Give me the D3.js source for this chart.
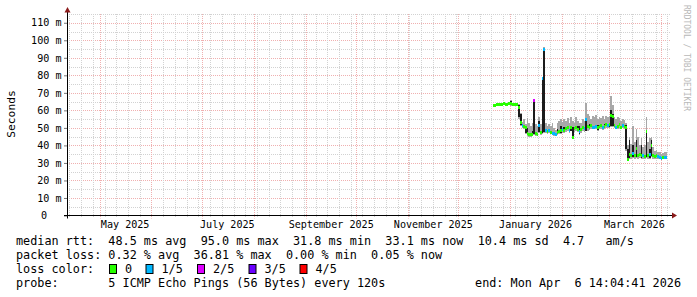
<!DOCTYPE html>
<html><head><meta charset="utf-8">
<script src="https://cdn.jsdelivr.net/npm/d3@7"></script>
<style>
html,body{margin:0;padding:0;background:#fff;}
svg{display:block;font-family:"DejaVu Sans Mono",monospace;}
</style></head><body>
<svg id="chart" width="697" height="297"></svg>
<script>
// ---------- data ----------
const endTime = "2026-04-06T14:04:41Z";
const spanDays = 360;
const firstDay = "2025-12-22";          // first daily sample (UTC)
const yTicks = [0,10,20,30,40,50,60,70,80,90,100,110];
const lossLabels = ["0","1/5","2/5","3/5","4/5"];
const lossColors = ["#26ff00","#00b8ff","#dd00ff","#6a00ff","#ff0000"];

// median rtt per day (ms)
const median = [
 62.8,63.0,63.4,63.5,63.6,63.5,63.7,63.6,63.5,63.8,64.0,63.6,63.5,63.4,63.3,
 61.5,53.0,51.5,50.8,50.5,47.0,46.5,46.0,46.5,
 65.5,47.0,46.5,51.5,47.5,78.0,95.0,48.5,48.0,48.5,
 47.5,47.0,46.8,46.5,47.5,48.0,48.5,49.0,48.5,49.5,
 50.0,48.5,50.0,44.3,49.5,50.0,49.0,48.0,49.0,50.0,
 49.5,55.0,51.0,50.5,51.5,50.5,50.5,50.8,50.0,51.0,
 51.5,50.5,51.0,52.0,51.5,52.0,57.0,56.5,51.5,50.5,
 51.0,52.0,50.5,51.5,51.0,50.5,31.8,35.0,34.0,35.5,
 34.0,38.0,34.5,35.0,34.0,34.5,33.5,48.0,34.5,35.0,
 40.0,34.0,33.5,34.0,33.5,33.0,32.8,33.0,33.1,33.1];
// lost pings out of 5 per day
const loss = [
 0,0,0,0,0,0,0,0,0,0,0,0,0,0,0,
 0,0,1,0,0,0,0,0,0,
 2,0,0,1,0,1,1,1,0,1,
 0,1,1,1,0,0,0,1,0,0,
 0,1,0,0,0,0,0,1,0,0,
 1,1,0,0,0,1,1,1,0,0,
 0,1,0,0,1,0,0,0,0,1,
 0,0,0,1,0,0,0,0,0,1,
 0,0,0,0,0,1,0,0,0,1,
 0,0,0,0,1,1,1,0,1,1];
// inner smoke (dark) range, ms
const coreLo = [
 62.5,62.7,63.1,63.2,63.3,63.2,63.4,63.3,63.2,63.5,63.0,63.3,63.2,63.1,63.0,
 56,51.5,51,50.3,47,46.3,46,45.5,46,
 46.5,46.5,46,47.5,47,47,47.5,48,47.5,48,
 47,46.5,46.3,46,46.5,47.5,47,48.5,47.5,49,
 49.5,48,48.5,44,49,49.5,48,46.5,48.5,49.5,
 49,48.5,50.5,49.5,51,50,50,50.3,49,50.5,
 51,50,50,51.5,51,50.5,51,51,51,50,
 50.5,51.5,50,51,50.5,38,31.5,33,33.5,33.5,
 33.5,33.5,34,34.5,33,34,33,33.5,34,33,
 34,33.5,33,33.5,33,32.5,32.3,32.5,32.6,32.6];
const coreHi = [
 63.2,63.4,63.8,63.9,64.0,63.9,64.1,64.0,63.9,64.2,65.5,64.0,63.9,63.8,63.7,
 63,58,52,51.3,51,50,47,46.5,48.5,
 65.5,47.5,47,54,48,78,95,49,48.5,49,
 48,47.5,47.3,47,49.5,48.5,51,49.5,50.5,50,
 50.5,49,51,50.5,50,50.5,51,51,49.5,50.5,
 50,55,51.5,52,52,51,51,51.3,51.5,51.5,
 52,51,52.5,52.5,52,53,60,58,52,51,
 51.5,52.5,51,52,51.5,51.5,38,43,34.5,40,
 34.5,43,35,35.5,40,35,34,48,35,38,
 43,34.5,34,34.5,34,33.5,33.3,33.5,33.6,33.6];
// outer smoke (light) range, ms
const smokeLo = [
 62.3,62.5,62.9,63.0,63.1,63.0,63.2,63.1,63.0,63.3,62.6,63.1,63.0,62.9,62.8,
 55,51,50,49.5,46.5,45.5,45,45,45.5,
 46,45.5,45.5,47,46,46.5,47,47,46.5,47,
 46.5,46,45.5,45.5,46,46.5,46.5,47,47,47.5,
 48,47,48,43.5,47.5,48,47.5,46,47,48,
 47.5,48,48.5,49,49.5,49.5,49.5,49.5,48.5,49.5,
 49.5,49,49.5,50,50,50,50.5,50.5,50,49.5,
 49.5,50,49.5,50,49.5,37,31,32.5,32.5,33,
 32.5,33,32.5,33,32.5,32.5,32.5,33,32.5,32.5,
 33.5,32.5,32.5,32.5,32.5,32,32,32,32,32];
const smokeHi = [
 63.5,63.7,64.1,64.3,64.3,64.2,64.5,64.4,64.2,64.6,66.0,64.3,64.2,64.1,64.0,
 63.5,58.5,53.5,55,52,55.5,53,51,53,
 66.5,52,51,56,52,79,96,53,51,52,
 51,53,50,49,53,54,55,53.5,55,54,
 55.5,53,56,54,53,56.5,54,53,53,55,
 54,64,58,57,55,57,56,57.5,55,56,
 55.5,57,55,57,56,57,68,63,56,55,
 56,55.5,54,55,54.5,53,40,45,41,51,
 42,49.5,45,40,44,39,40,56.5,42,44,
 45,39,37,37.5,36,36,35,35.5,36.5,36];

// ---------- layout ----------
const svg = d3.select("#chart");
const X0 = 67, X1 = 670, Y0 = 215.5, YTOP = 14;
const end = new Date(endTime);
const start = d3.utcDay.offset(end, -spanDays);
const x = d3.scaleUtc().domain([start, end]).range([X0, X1]);
const y = d3.scaleLinear().domain([0, 115]).range([Y0, YTOP]);

svg.append("rect").attr("width",697).attr("height",297).attr("fill","#fff");

// ---------- grid ----------
const grid = svg.append("g");
const minorCol = "#d2d2d2", majorCol = "#f0b0b0";
grid.selectAll(".hmin").data(d3.range(5,116,10)).join("line")
  .attr("x1",X0).attr("x2",X1).attr("y1",d=>Math.round(y(d))+0.5).attr("y2",d=>Math.round(y(d))+0.5)
  .attr("stroke",minorCol).attr("stroke-dasharray","1,1");
grid.selectAll(".hmaj").data(yTicks.slice(1)).join("line")
  .attr("x1",X0).attr("x2",X1).attr("y1",d=>Math.round(y(d))+0.5).attr("y2",d=>Math.round(y(d))+0.5)
  .attr("stroke",majorCol).attr("stroke-dasharray","1,1");
const weeks = d3.utcSunday.range(start, end);
const months = d3.utcMonth.range(d3.utcMonth.ceil(start), end);
grid.selectAll(".vmin").data(weeks).join("line")
  .attr("x1",d=>Math.round(x(d))+0.5).attr("x2",d=>Math.round(x(d))+0.5)
  .attr("y1",YTOP).attr("y2",Y0+2).attr("stroke",minorCol).attr("stroke-dasharray","1,1");
grid.selectAll(".vmaj").data(months).join("line")
  .attr("x1",d=>Math.round(x(d))+0.5).attr("x2",d=>Math.round(x(d))+0.5)
  .attr("y1",YTOP).attr("y2",Y0+3).attr("stroke",majorCol).attr("stroke-dasharray","1,1");

// ---------- data marks ----------
const day0 = new Date(firstDay + "T00:00:00Z");
const rows = median.map((m,i)=>({
  t0: d3.utcDay.offset(day0, i), t1: d3.utcDay.offset(day0, i+1),
  med: m, loss: loss[i], cLo: coreLo[i], cHi: coreHi[i], sLo: smokeLo[i], sHi: smokeHi[i]
}));
const dg = svg.append("g").attr("shape-rendering","crispEdges");
dg.selectAll(".smoke").data(rows).join("rect")
  .attr("x",d=>x(d.t0)).attr("width",d=>x(d.t1)-x(d.t0))
  .attr("y",d=>y(d.sHi)).attr("height",d=>Math.max(1,y(d.sLo)-y(d.sHi)))
  .attr("fill","#a8a8a8");
dg.selectAll(".core").data(rows).join("rect")
  .attr("x",d=>x(d.t0)).attr("width",d=>x(d.t1)-x(d.t0))
  .attr("y",d=>y(d.cHi)).attr("height",d=>Math.max(1,y(d.cLo)-y(d.cHi)))
  .attr("fill","#1c1c1c");
dg.selectAll(".med").data(rows).join("rect")
  .attr("x",d=>x(d.t0)).attr("width",d=>x(d.t1)-x(d.t0))
  .attr("y",d=>y(d.med)-1.5).attr("height",3)
  .attr("fill",d=>lossColors[d.loss]);

// ---------- axes ----------
const yAxis = d3.axisLeft(y).tickValues(yTicks).tickSize(3).tickPadding(2.5)
  .tickFormat(d=> d===0 ? "0" : d + " m");
const ya = svg.append("g").attr("transform",`translate(${X0},0)`).call(yAxis);
ya.select(".domain").remove();
ya.selectAll(".tick line").attr("stroke","#777");
ya.selectAll(".tick text").attr("font-family","DejaVu Sans Mono").attr("font-size",10.1).attr("fill","#000");
ya.selectAll(".tick").filter(d=>d===0).select("text").attr("x",-20);

const labelDates = months.filter(m=>m.getUTCMonth()%2===0).map(m=>d3.utcDay.offset(m,15));
const xAxis = d3.axisBottom(x).tickValues(labelDates).tickSize(0).tickPadding(5.3)
  .tickFormat(d3.utcFormat("%B %Y"));
const xa = svg.append("g").attr("transform",`translate(0,${Y0})`).call(xAxis);
xa.select(".domain").remove();
xa.selectAll(".tick text").attr("font-family","DejaVu Sans Mono").attr("font-size",10.1).attr("fill","#000");

svg.append("line").attr("x1",64).attr("x2",672).attr("y1",Y0).attr("y2",Y0).attr("stroke","#000");
svg.append("line").attr("x1",X0+0.5).attr("x2",X0+0.5).attr("y1",Y0+3).attr("y2",12).attr("stroke","#000");
svg.append("path").attr("d",`M672,${Y0-3}L677,${Y0}L672,${Y0+3}Z`).attr("fill","#8b1a1a");
svg.append("path").attr("d","M64.5,12.5L67.5,7L70.5,12.5Z").attr("fill","#8b1a1a");

// ---------- texts ----------
svg.append("text").attr("transform","translate(15,114) rotate(-90)").attr("text-anchor","middle")
  .attr("font-size",11.3).text("Seconds");
svg.append("text").attr("transform","translate(683.5,5) rotate(90)").attr("font-size",8)
  .attr("fill","#b8b8b8").text("RRDTOOL / TOBI OETIKER");

const lf = 11.8;
function lt(xp, yp, s, anchor){ svg.append("text").attr("x",xp).attr("y",yp).attr("font-size",lf)
  .attr("text-anchor",anchor||"start").style("white-space","pre").text(s); }
const L1 = 245, L2 = 259, L3 = 273, L4 = 287;
lt(16,L1,"median rtt:  48.5 ms avg  95.0 ms max  31.8 ms min  33.1 ms now  10.4 ms sd  4.7   am/s");
lt(16,L2,"packet loss: 0.32 % avg  36.81 % max  0.00 % min  0.05 % now");
lt(16,L3,"loss color:");
const boxX = [109.5,146,197.5,249,300];
lossLabels.forEach((l,i)=>{
  svg.append("rect").attr("x",boxX[i]).attr("y",264.5).attr("width",7).attr("height",9)
    .attr("fill",lossColors[i]).attr("stroke","#000").attr("stroke-width",1);
  lt(boxX[i]+15.5,L3,l);
});
lt(16,L4,"probe:       5 ICMP Echo Pings (56 Bytes) every 120s");
lt(681,L4,"end: Mon Apr  6 14:04:41 2026","end");
</script>
</body></html>
